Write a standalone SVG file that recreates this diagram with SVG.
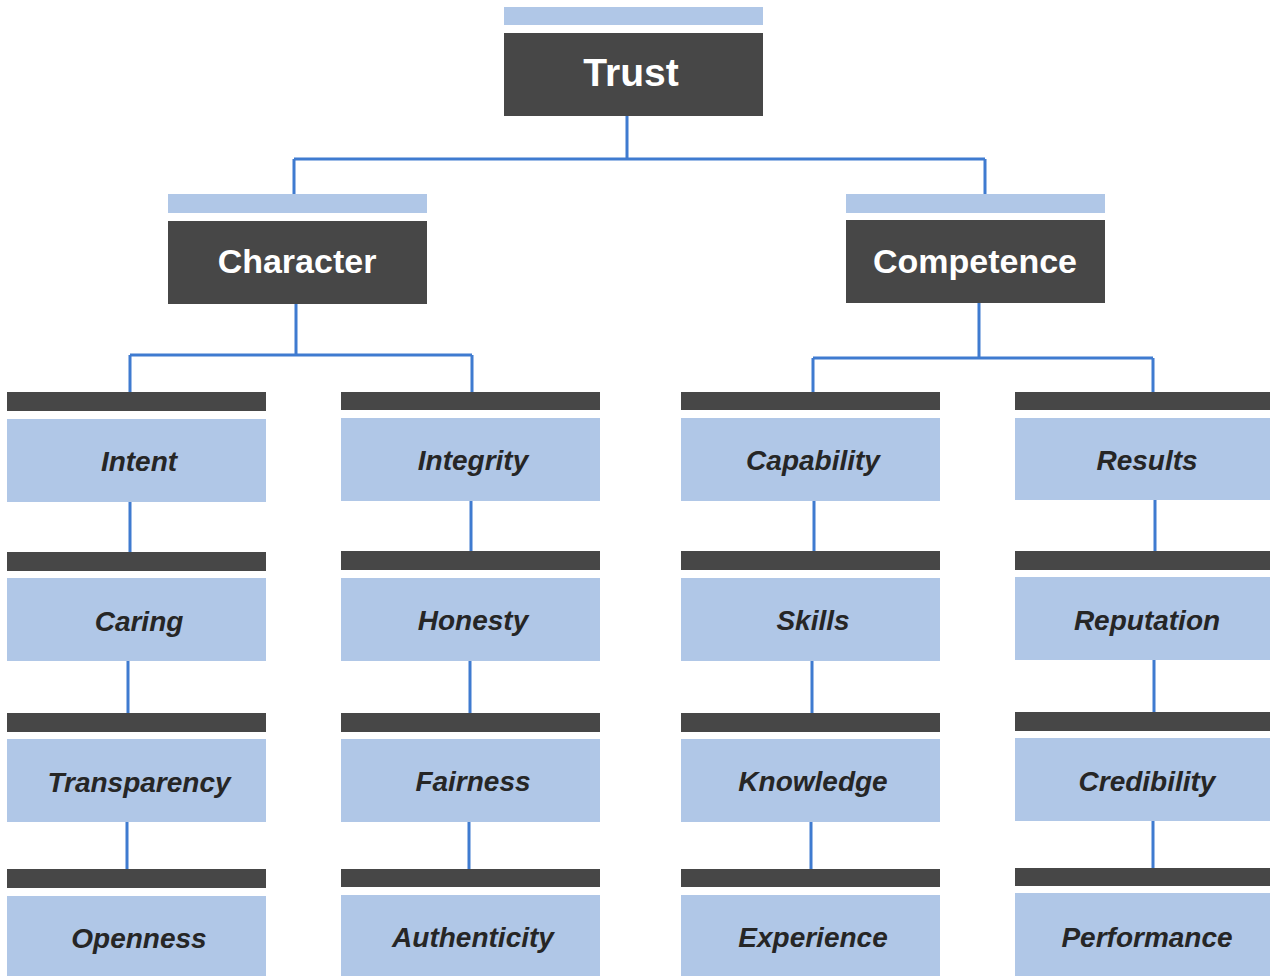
<svg xmlns="http://www.w3.org/2000/svg" width="1276" height="976" viewBox="0 0 1276 976">
<style>
.lt{fill:#b0c7e7}
.dk{fill:#474747}
.ttl{font-family:"Liberation Sans",Arial,sans-serif;font-weight:bold;fill:#ffffff;text-anchor:middle}
.lbl{font-family:"Liberation Sans",Arial,sans-serif;font-weight:bold;font-style:italic;font-size:28px;fill:#262626;text-anchor:middle}
.cn{fill:none;stroke:#3f7bd0;stroke-width:3}
</style>
<rect width="1276" height="976" fill="#ffffff"/>
<g id="connectors">
<path class="cn" d="M627,116 V159 M294,159 H985 M294,159 V194 M985,159 V194"/>
<path class="cn" d="M296,304 V355 M130,355 H472 M130,355 V392 M472,355 V392"/>
<path class="cn" d="M979,303 V358 M813,358 H1153 M813,358 V392 M1153,358 V392"/>
<path class="cn" d="M130,502 V552 M128,661 V713 M127,822 V869"/>
<path class="cn" d="M471,501 V551 M470,661 V713 M469,822 V869"/>
<path class="cn" d="M814,501 V551 M812,661 V713 M811,822 V869"/>
<path class="cn" d="M1155,500 V551 M1154,660 V712 M1153,821 V868"/>
</g>
<g id="trust">
<rect class="lt" x="504" y="7" width="259" height="18"/>
<rect class="dk" x="504" y="33" width="259" height="83"/>
<text class="ttl" x="631" y="86" font-size="39">Trust</text>
</g>
<g id="character">
<rect class="lt" x="168" y="194" width="259" height="19"/>
<rect class="dk" x="168" y="221" width="259" height="83"/>
<text class="ttl" x="297" y="273" font-size="34">Character</text>
</g>
<g id="competence">
<rect class="lt" x="846" y="194" width="259" height="19"/>
<rect class="dk" x="846" y="220" width="259" height="83"/>
<text class="ttl" x="975" y="273" font-size="34">Competence</text>
</g>
<g id="intent"><rect class="dk" x="7" y="392" width="259" height="19"/><rect class="lt" x="7" y="419" width="259" height="83"/><text class="lbl" x="139" y="471">Intent</text></g>
<g id="caring"><rect class="dk" x="7" y="552" width="259" height="19"/><rect class="lt" x="7" y="578" width="259" height="83"/><text class="lbl" x="139" y="631">Caring</text></g>
<g id="transparency"><rect class="dk" x="7" y="713" width="259" height="19"/><rect class="lt" x="7" y="739" width="259" height="83"/><text class="lbl" x="139" y="792">Transparency</text></g>
<g id="openness"><rect class="dk" x="7" y="869" width="259" height="19"/><rect class="lt" x="7" y="896" width="259" height="80"/><text class="lbl" x="139" y="948">Openness</text></g>
<g id="integrity"><rect class="dk" x="341" y="392" width="259" height="18"/><rect class="lt" x="341" y="418" width="259" height="83"/><text class="lbl" x="473" y="470">Integrity</text></g>
<g id="honesty"><rect class="dk" x="341" y="551" width="259" height="19"/><rect class="lt" x="341" y="578" width="259" height="83"/><text class="lbl" x="473" y="630">Honesty</text></g>
<g id="fairness"><rect class="dk" x="341" y="713" width="259" height="19"/><rect class="lt" x="341" y="739" width="259" height="83"/><text class="lbl" x="473" y="791">Fairness</text></g>
<g id="authenticity"><rect class="dk" x="341" y="869" width="259" height="18"/><rect class="lt" x="341" y="895" width="259" height="81"/><text class="lbl" x="473" y="947">Authenticity</text></g>
<g id="capability"><rect class="dk" x="681" y="392" width="259" height="18"/><rect class="lt" x="681" y="418" width="259" height="83"/><text class="lbl" x="813" y="470">Capability</text></g>
<g id="skills"><rect class="dk" x="681" y="551" width="259" height="19"/><rect class="lt" x="681" y="578" width="259" height="83"/><text class="lbl" x="813" y="630">Skills</text></g>
<g id="knowledge"><rect class="dk" x="681" y="713" width="259" height="19"/><rect class="lt" x="681" y="739" width="259" height="83"/><text class="lbl" x="813" y="791">Knowledge</text></g>
<g id="experience"><rect class="dk" x="681" y="869" width="259" height="18"/><rect class="lt" x="681" y="895" width="259" height="81"/><text class="lbl" x="813" y="947">Experience</text></g>
<g id="results"><rect class="dk" x="1015" y="392" width="255" height="18"/><rect class="lt" x="1015" y="418" width="255" height="82"/><text class="lbl" x="1147" y="470">Results</text></g>
<g id="reputation"><rect class="dk" x="1015" y="551" width="255" height="19"/><rect class="lt" x="1015" y="577" width="255" height="83"/><text class="lbl" x="1147" y="630">Reputation</text></g>
<g id="credibility"><rect class="dk" x="1015" y="712" width="255" height="19"/><rect class="lt" x="1015" y="738" width="255" height="83"/><text class="lbl" x="1147" y="791">Credibility</text></g>
<g id="performance"><rect class="dk" x="1015" y="868" width="255" height="18"/><rect class="lt" x="1015" y="893" width="255" height="83"/><text class="lbl" x="1147" y="947">Performance</text></g>
</svg>
